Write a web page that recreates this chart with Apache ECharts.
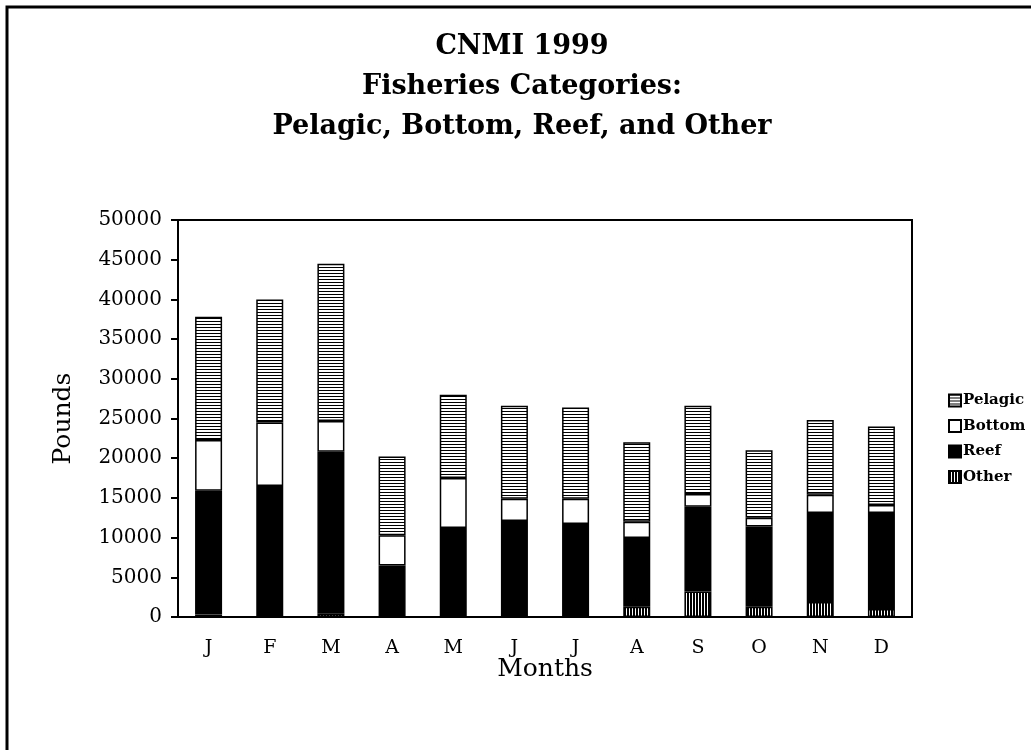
<!DOCTYPE html>
<html>
<head>
<meta charset="utf-8">
<script src="https://cdn.jsdelivr.net/npm/echarts@6/dist/echarts.min.js"></script>
<style>
  html, body { margin: 0; padding: 0; background: #fff; overflow: hidden; }
  #chart { width: 1031px; height: 750px; }
</style>
</head>
<body>
<div id="chart"></div>
<script>
  // months and pounds per category (segment sizes, stacked bottom to top)
  var months = ['J', 'F', 'M', 'A', 'M', 'J', 'J', 'A', 'S', 'O', 'N', 'D']
  var other = [300, 0, 400, 0, 0, 0, 0, 1300, 3200, 1300, 1900, 1000]
  var reef = [15600, 16500, 20400, 6500, 11200, 12100, 11700, 8650, 10700, 10100, 11200, 12100]
  var bottom = [6400, 8000, 3900, 3800, 6300, 2800, 3200, 2050, 1600, 1100, 2300, 1000]
  var pelagic = [15500, 15500, 19800, 9900, 10500, 11700, 11500, 10000, 11100, 8500, 9400, 9900]
  var yTicks = [0, 5000, 10000, 15000, 20000, 25000, 30000, 35000, 40000, 45000, 50000]

  var serif = 'DejaVu Serif'

  function makePattern(horizontal) {
    let c = document.createElement('canvas')
    c.width = 3
    c.height = 3
    let ctx = c.getContext('2d')
    ctx.fillStyle = '#fff'
    ctx.fillRect(0, 0, 3, 3)
    ctx.fillStyle = '#000'
    if (horizontal) {
      ctx.fillRect(0, 0, 3, 1)
    } else {
      ctx.fillRect(0, 0, 2, 3)
    }
    return c
  }

  var hStripes = {image: makePattern(true), repeat: 'repeat'}
  var vStripes = {image: makePattern(false), repeat: 'repeat'}

  function barSeries(name, data, fill) {
    return {
      name: name,
      type: 'bar',
      stack: 'total',
      barWidth: 27,
      itemStyle: {
        color: fill,
        borderColor: '#000',
        borderWidth: 1.5
      },
      emphasis: {disabled: true},
      data: data
    }
  }

  var chart = echarts.init(document.getElementById('chart'))
  var option = {
    animation: false,
    backgroundColor: '#fff',
    title: {
      text: 'CNMI 1999\nFisheries Categories:\nPelagic, Bottom, Reef, and Other',
      left: 517,
      top: 22,
      textAlign: 'center',
      textStyle: {
        fontFamily: serif,
        fontWeight: 'bold',
        fontSize: 27,
        lineHeight: 40,
        color: '#000'
      }
    },
    graphic: [{
      type: 'rect',
      shape: {x: 7, y: 7, width: 1100, height: 800},
      style: {fill: 'none', stroke: '#000', lineWidth: 3},
      silent: true
    }],
    legend: {
      orient: 'vertical',
      left: 943,
      top: 388,
      itemWidth: 12,
      itemHeight: 12,
      itemGap: 10.5,
      icon: 'rect',
      data: ['Pelagic', 'Bottom', 'Reef', 'Other'],
      textStyle: {
        fontFamily: serif,
        fontWeight: 'bold',
        fontSize: 15,
        color: '#000',
        padding: [0, 0, 0, -3]
      }
    },
    grid: {
      left: 178,
      right: 119,
      top: 220,
      bottom: 133,
      show: true,
      borderColor: '#000',
      borderWidth: 2,
      containLabel: false
    },
    xAxis: {
      type: 'category',
      data: months,
      name: 'Months',
      nameLocation: 'middle',
      nameGap: 40,
      nameMoveOverlap: false,
      nameTextStyle: {fontFamily: serif, fontSize: 25, color: '#000'},
      axisLine: {lineStyle: {color: '#000', width: 2}},
      axisTick: {show: false},
      axisLabel: {fontFamily: serif, fontSize: 19, color: '#000', margin: 22}
    },
    yAxis: {
      type: 'value',
      min: yTicks[0],
      max: yTicks[yTicks.length - 1],
      interval: 5000,
      name: 'Pounds',
      nameLocation: 'middle',
      nameGap: 102,
      nameTextStyle: {fontFamily: serif, fontSize: 25, color: '#000'},
      axisLine: {show: true, lineStyle: {color: '#000', width: 2}},
      axisTick: {show: true, length: 7, lineStyle: {color: '#000', width: 2}},
      splitLine: {show: false},
      axisLabel: {
        fontFamily: serif,
        fontSize: 20,
        color: '#000',
        margin: 16,
        formatter: function (v) {
          return String(v)
        }
      }
    },
    series: [
      barSeries('Other', other, vStripes),
      barSeries('Reef', reef, '#000'),
      barSeries('Bottom', bottom, '#fff'),
      barSeries('Pelagic', pelagic, hStripes)
    ]
  }
  chart.setOption(option)
</script>
</body>
</html>
